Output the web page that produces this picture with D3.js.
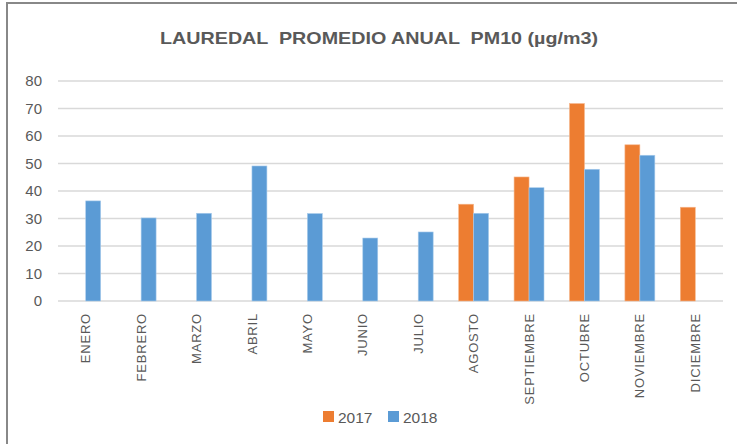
<!DOCTYPE html>
<html><head><meta charset="utf-8">
<script src="https://cdn.jsdelivr.net/npm/d3@7"></script>
<style>body{margin:0;background:#fff;}svg{display:block;}</style>
</head><body>
<svg id="chart" width="737" height="444"></svg>
<script>
const months = ["ENERO","FEBRERO","MARZO","ABRIL","MAYO","JUNIO","JULIO","AGOSTO","SEPTIEMBRE","OCTUBRE","NOVIEMBRE","DICIEMBRE"];
const seriesNames = ["2017","2018"];
const values2017 = [null,null,null,null,null,null,null,35.2,45.1,71.8,56.8,34.1];
const values2018 = [36.4,30.2,31.9,49.1,31.8,22.9,25.1,31.9,41.2,47.9,53.0,null];
const yTicks = [0,10,20,30,40,50,60,70,80];
const colors = ["#ED7D31","#5B9BD5"];
const title = "LAUREDAL  PROMEDIO ANUAL  PM10 (µg/m3)";

const svg = d3.select("#chart");
const font = "'Liberation Sans', Arial, sans-serif";
const txt = "#595959";

// frame
svg.append("rect").attr("x",7).attr("y",3).attr("width",760).attr("height",470)
  .attr("fill","#fff").attr("stroke","#888888").attr("stroke-width",2);

const x0 = d3.scaleBand().domain(months).range([58,723]).paddingInner(0.46).paddingOuter(0.23);
const x1 = d3.scaleBand().domain(seriesNames).range([0, x0.bandwidth()]);
const y = d3.scaleLinear().domain([0,80]).range([301,81]);

// gridlines
svg.append("g").selectAll("line").data(yTicks).join("line")
  .attr("x1",58).attr("x2",723).attr("y1",d=>y(d)).attr("y2",d=>y(d))
  .attr("stroke","#d9d9d9").attr("stroke-width",1.3);

// y axis labels
const yAxis = d3.axisLeft(y).tickValues(yTicks).tickSize(0).tickPadding(0);
const gy = svg.append("g").attr("transform","translate(42,0)").call(yAxis);
gy.select(".domain").remove();
gy.selectAll("text").attr("font-family",font).attr("font-size",15).attr("fill",txt);

// bars
const data = [values2017, values2018];
data.forEach((vals,si)=>{
  svg.append("g").selectAll("rect")
    .data(months.map((m,i)=>({m, v: vals[i]})).filter(d=>d.v!=null))
    .join("rect")
    .attr("x",d=>x0(d.m)+x1(seriesNames[si]))
    .attr("width",x1.bandwidth())
    .attr("y",d=>y(d.v))
    .attr("height",d=>y(0)-y(d.v))
    .attr("fill",colors[si])
    .attr("stroke", si===0 ? "#f5b68c" : "#a9ccec").attr("stroke-width",0.6);
});

// x labels
const xAxis = d3.axisBottom(x0).tickSize(0).tickPadding(0);
const gx = svg.append("g").attr("transform","translate(0,313)").call(xAxis);
gx.select(".domain").remove();
gx.selectAll("text")
  .attr("font-family",font).attr("font-size",13).attr("fill",txt)
  .attr("letter-spacing","0.8px")
  .attr("transform","rotate(-90)")
  .attr("text-anchor","end")
  .attr("x",0).attr("y",0).attr("dy","0.35em");

// title
svg.append("text").attr("x",379).attr("y",44).attr("text-anchor","middle")
  .attr("font-family",font).attr("font-weight","bold").attr("font-size",16.5)
  .attr("fill",txt).attr("textLength",438).attr("lengthAdjust","spacingAndGlyphs")
  .style("white-space","pre").text(title);

// legend
const leg = svg.append("g");
const legX = [323, 388];
seriesNames.forEach((s,i)=>{
  leg.append("rect").attr("x",legX[i]).attr("y",411).attr("width",11).attr("height",11).attr("fill",colors[i]);
  leg.append("text").attr("x",legX[i]+15).attr("y",422.5).attr("font-family",font).attr("font-size",15.5)
    .attr("fill",txt).text(s);
});
</script>
</body></html>
